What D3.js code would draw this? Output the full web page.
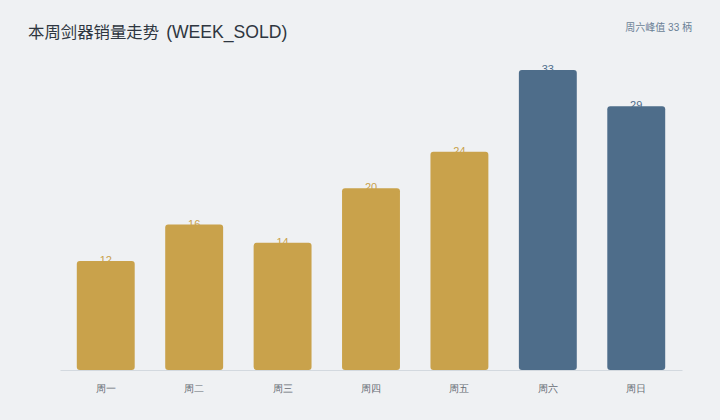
<!DOCTYPE html>
<html>
<head>
<meta charset="utf-8">
<script src="https://cdn.jsdelivr.net/npm/d3@7"></script>
<style>
  html, body { margin: 0; padding: 0; background: #eff1f3; }
  svg { display: block; font-family: "Liberation Sans", "Noto Sans CJK SC", sans-serif; }
</style>
</head>
<body>
<div id="chart"></div>
<script>
const days = ["周一", "周二", "周三", "周四", "周五", "周六", "周日"];
const sold = [12, 16, 14, 20, 24, 33, 29];
const weekend = ["周六", "周日"];

const width = 720, height = 420;
const margin = { top: 40, right: 38, bottom: 50, left: 60 };

const svg = d3.select("#chart").append("svg")
    .attr("width", width)
    .attr("height", height);

svg.append("rect")
    .attr("width", width)
    .attr("height", height)
    .attr("fill", "#eff1f3");

const title = svg.append("text")
    .attr("x", 28)
    .attr("y", 38)
    .attr("font-size", 16.4)
    .attr("fill", "#2e3640");
title.append("tspan").text("本周剑器销量走势");
title.append("tspan").attr("dx", 7).attr("font-size", 17.6).text("(WEEK_SOLD)");

const peak = d3.max(sold);
const peakDay = days[sold.indexOf(peak)];
svg.append("text")
    .attr("x", 692)
    .attr("y", 31)
    .attr("text-anchor", "end")
    .attr("font-size", 10)
    .attr("fill", "#6a7f95")
    .text(`${peakDay}峰值 ${peak} 柄`);

const x = d3.scaleBand()
    .domain(days)
    .range([margin.left, width - margin.right])
    .paddingInner(0.345)
    .paddingOuter(0.19);

const y = d3.scaleLinear()
    .domain([0, peak * 1.1])
    .range([height - margin.bottom, margin.top]);

const color = d => weekend.includes(d) ? "#4e6d8a" : "#c9a24b";

// axis
const xAxis = svg.append("g")
    .attr("transform", `translate(0,${y(0)})`)
    .call(d3.axisBottom(x).tickSize(0).tickPadding(15).tickSizeOuter(0));
xAxis.select(".domain").attr("stroke", "#d3d9df");
xAxis.selectAll("text")
    .attr("font-size", 10)
    .attr("fill", "#666c73");

// value labels (behind bars)
svg.append("g").selectAll("text")
    .data(days)
    .enter().append("text")
    .attr("x", d => x(d) + x.bandwidth() / 2)
    .attr("y", (d, i) => y(sold[i]) + 3)
    .attr("text-anchor", "middle")
    .attr("font-size", 11)
    .attr("fill", d => color(d))
    .text((d, i) => sold[i]);

// bars with small rounded corners
function barPath(x0, y0, w, h, r) {
    return `M${x0},${y0 + r} Q${x0},${y0} ${x0 + r},${y0} L${x0 + w - r},${y0} Q${x0 + w},${y0} ${x0 + w},${y0 + r}` +
        ` L${x0 + w},${y0 + h - r} Q${x0 + w},${y0 + h} ${x0 + w - r},${y0 + h} L${x0 + r},${y0 + h} Q${x0},${y0 + h} ${x0},${y0 + h - r} Z`;
}

svg.append("g").selectAll("path")
    .data(days)
    .enter().append("path")
    .attr("d", (d, i) => barPath(x(d), y(sold[i]), x.bandwidth(), y(0) - y(sold[i]), 3))
    .attr("fill", d => color(d));
</script>
</body>
</html>
